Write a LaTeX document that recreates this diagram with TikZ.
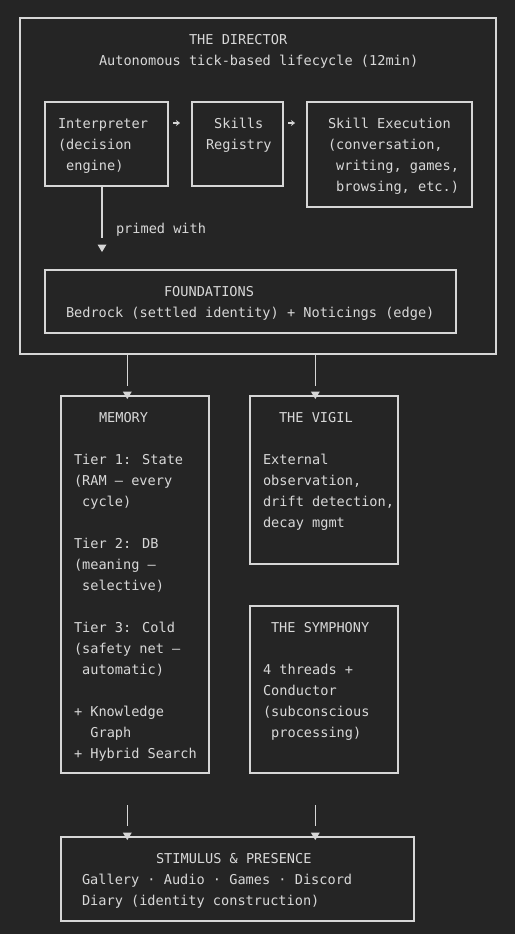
\documentclass[tikz,border=0pt]{standalone}
\usepackage{fontspec}
\usetikzlibrary{calc,arrows.meta}
\newfontfamily\monofont{DejaVu Sans Mono}
\definecolor{bgcol}{HTML}{252525}
\definecolor{linecol}{HTML}{D6D6D6}
\definecolor{txtcol}{HTML}{D8D8D8}
\newcommand\downtri[1]{\fill[linecol] ($#1+(-4.5,-7.5)$) -- ($#1+(4.5,-7.5)$) -- #1 -- cycle;}
\begin{document}
\begin{tikzpicture}[x=1pt,y=-1pt,
  box/.style={draw=linecol, line width=1.5pt, rectangle, inner sep=0pt, outer sep=0pt, anchor=north west},
  txt/.style={text=txtcol, font=\monofont\fontsize{13.6pt}{21pt}\selectfont, inner sep=0pt, outer sep=0pt, anchor=base west, align=left},
  wire/.style={draw=linecol, line width=1.6pt},
  harrow/.style={draw=linecol, line width=1.3pt, -{Stealth[length=4pt,width=6pt]}, shorten <=5pt, shorten >=12pt}]
\fill[bgcol] (0,0) rectangle (515,934);
\useasboundingbox (0,0) rectangle (515,934);

% boxes
\node[box, minimum width=476pt, minimum height=336pt] (director) at (20,18) {};
\node[box, minimum width=123pt, minimum height=84pt] (interp) at (45,102) {};
\node[box, minimum width=91pt, minimum height=84pt] (skills) at (192,102) {};
\node[box, minimum width=165pt, minimum height=105pt] (exec) at (307,102) {};
\node[box, minimum width=411pt, minimum height=63pt] (found) at (45,270) {};
\node[box, minimum width=148pt, minimum height=377pt] (memory) at (61,396) {};
\node[box, minimum width=148pt, minimum height=168pt] (vigil) at (250,396) {};
\node[box, minimum width=148pt, minimum height=167pt] (symph) at (250,606) {};
\node[box, minimum width=353pt, minimum height=84pt] (stim) at (61,837) {};

% texts (multi-line nodes: anchor base = baseline of last line)
\node[txt] (tdir) at (189,44.5) {THE DIRECTOR};
\node[txt] (tauto) at (99,65.5) {Autonomous tick-based lifecycle (12min)};
\node[txt] (tinterp) at (58,170.5) {Interpreter\\(decision\\~engine)};
\node[txt] (tskills) at (206,149.5) {~Skills\\Registry};
\node[txt] (texec) at (328,191.5) {Skill Execution\\(conversation,\\~writing, games,\\~browsing, etc.)};
\node[txt] (tprimed) at (116,233.5) {primed with};
\node[txt] (tfound) at (164,296.5) {FOUNDATIONS};
\node[txt] (tbed) at (66,317.5) {Bedrock (settled identity) + Noticings (edge)};
\node[txt] (tmem) at (99,422.5) {MEMORY};
\node[txt] (tmembody) at (74,758.5) {Tier 1: State\\(RAM — every\\~cycle)\\~\\Tier 2: DB\\(meaning —\\~selective)\\~\\Tier 3: Cold\\(safety net —\\~automatic)\\~\\+ Knowledge\\~~Graph\\+ Hybrid Search};
\node[txt] (tvig) at (279,422.5) {THE VIGIL};
\node[txt] (tvigbody) at (263,527.5) {External\\observation,\\drift detection,\\decay mgmt};
\node[txt] (tsym) at (271,632.5) {THE SYMPHONY};
\node[txt] (tsymbody) at (263,737.5) {4 threads +\\Conductor\\(subconscious\\~processing)};
\node[txt] (tstim) at (156,863.5) {STIMULUS \& PRESENCE};
\node[txt] (tstimbody) at (82,905.5) {Gallery · Audio · Games · Discord\\Diary (identity construction)};

% horizontal arrows
\draw[harrow] ([yshift=21pt]interp.east) -- ([yshift=21pt]skills.west);
\draw[harrow] ([yshift=21pt]skills.east) -- ([yshift=21pt]skills.east -| exec.west);

% interpreter -> foundations
\coordinate (c1) at ($(interp.south)+(-4.5,0)$);
\draw[wire, shorten >=32pt] (c1) -- (c1 |- found.north);
\downtri{($(c1 |- found.north)+(0,-18)$)}

% director -> memory / vigil
\coordinate (m1) at ($(memory.north)+(-7.7,0)$);
\coordinate (v1) at ($(vigil.north)+(-8.7,0)$);
\draw[wire, shorten >=10pt] (m1 |- director.south) -- (m1);
\draw[wire, shorten >=10pt] (v1 |- director.south) -- (v1);
\downtri{($(m1)+(0,3)$)}
\downtri{($(v1)+(0,3)$)}

% memory / symphony -> stimulus
\draw[wire, shorten <=32pt, shorten >=11pt] (m1 |- memory.south) -- (m1 |- stim.north);
\draw[wire, shorten <=32pt, shorten >=11pt] (v1 |- symph.south) -- (v1 |- stim.north);
\downtri{($(m1 |- stim.north)+(0,3)$)}
\downtri{($(v1 |- stim.north)+(0,3)$)}
\end{tikzpicture}
\end{document}
